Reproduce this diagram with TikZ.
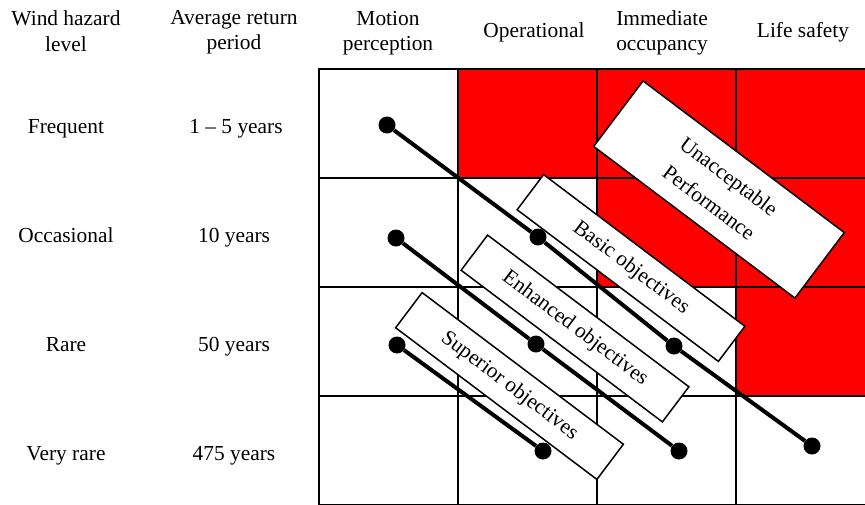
\documentclass[tikz,border=0pt]{standalone}
\usepackage{fontspec}
\setmainfont{Liberation Serif}

\begin{document}
\begin{tikzpicture}[x=1pt,y=-1pt,font=\fontsize{21.4}{25.5}\selectfont]
\tikzstyle{label}=[anchor=base, inner sep=0pt]
\tikzstyle{head}=[align=center, inner sep=0pt]
\tikzstyle{grid}=[line width=2pt]
\tikzstyle{dot}=[circle, fill, inner sep=0pt, minimum size=17pt]
\tikzstyle{objline}=[line width=4pt]
\tikzstyle{objbox}=[draw, fill=white, line width=1.5pt, rotate=-37,
    inner sep=0pt, minimum width=252pt, minimum height=44pt, align=center]

\useasboundingbox (0,0) rectangle (865,504);

% header
\node[head] (hlevel) at (66,31) {Wind hazard\\level};
\node[head] (hperiod) at (234,32) {Average return\\period};
\node[head] (hmotion) at (388,33) {Motion\\perception};
\node[label] (hoper) at (534,37) {Operational};
\node[head] (himm) at (662,33) {Immediate\\occupancy};
\node[label] (hlife) at (803,37) {Life safety};

% rows
\node[label] (frequent) at (66,133) {Frequent};
\node[label] (occasional) at (66,242) {Occasional};
\node[label] (rare) at (66,351) {Rare};
\node[label] (veryrare) at (66,460) {Very rare};
\node[label] (p1) at (236,133) {1 -- 5 years};
\node[label] (p2) at (234,242) {10 years};
\node[label] (p3) at (234,351) {50 years};
\node[label] (p4) at (234,460) {475 years};

% unacceptable cells
\fill[red] (458,69) rectangle (875,178);
\fill[red] (597,178) rectangle (875,287);
\fill[red] (736,287) rectangle (875,396);

\foreach \x in {319,458,597,736}
    \draw[grid] (\x,68) -- (\x,506);
\foreach \y in {69,178,287,396,505}
    \draw[grid] (318,\y) -- (875,\y);

% objectives
\node[dot] (b1) at (387,125) {};
\node[dot] (b2) at (538,237) {};
\node[dot] (b3) at (674,346) {};
\node[dot] (b4) at (812,446) {};
\node[dot] (e1) at (396,238) {};
\node[dot] (e2) at (536,344) {};
\node[dot] (e3) at (679,451) {};
\node[dot] (s1) at (397,345) {};
\node[dot] (s2) at (543,451) {};

\draw[objline] (b1) -- (b2) -- (b3) -- (b4);
\draw[objline] (e1) -- (e2) -- (e3);
\draw[objline] (s1) -- (s2);

\node[objbox, minimum height=82pt, font=\fontsize{21.4}{33}\selectfont]
    (unacc) at (719,189.5) {Unacceptable\\Performance};
\node[objbox] (basic) at (631,268) {Basic objectives};
\node[objbox] (enhanced) at (575,328.5) {Enhanced objectives};
\node[objbox] (superior) at (509.5,386) {Superior objectives};
\end{tikzpicture}
\end{document}
